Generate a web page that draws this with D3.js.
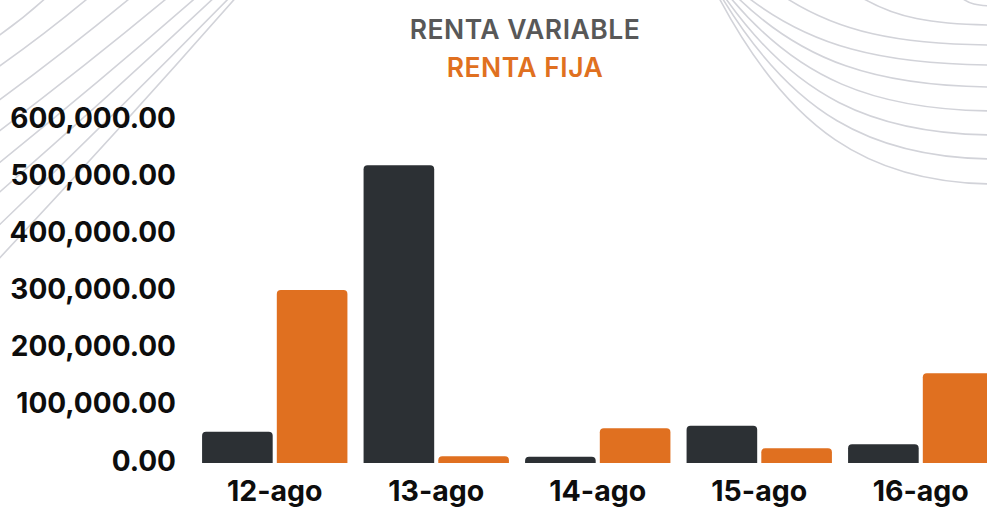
<!DOCTYPE html>
<html>
<head>
<meta charset="utf-8">
<script src="https://cdn.jsdelivr.net/npm/d3@7"></script>
<style>
  html, body { margin: 0; padding: 0; background: #fff; }
  svg { display: block; font-family: Inter, "Noto Sans", sans-serif; }
</style>
</head>
<body>
<div id="chart"></div>
<script>
// Chart data
const categories = ['12-ago', '13-ago', '14-ago', '15-ago', '16-ago'];
const rentaVariable = [54700, 521000, 11000, 65300, 32700];
const rentaFija = [302600, 12000, 60700, 25700, 157000];
const seriesNames = ['RENTA VARIABLE', 'RENTA FIJA'];
const yTicks = [0, 100000, 200000, 300000, 400000, 500000, 600000];

// decoration: top-left fan (top x, left-edge y) and top-right waves (top x, right-edge y)
const fanLeft = [[45, 32], [88, 63], [130, 97], [167, 128], [195, 160], [213, 190], [228, 223], [234, 257]];
const waveRight = [[963, 6], [863, 25], [787, 45], [750, 65], [740, 87], [733, 111], [728, 135], [725, 159], [722, 184]];

function renderChart() {
    const width = 987, height = 507;
    const colors = ['#2c3034', '#e07020'];

    const svg = d3.select('#chart').append('svg')
        .attr('width', width)
        .attr('height', height);

    // background lines
    const deco = svg.append('g')
        .attr('fill', 'none')
        .attr('stroke', '#d2d3d9')
        .attr('stroke-width', 1.6);

    deco.selectAll('.fan')
        .data(fanLeft)
        .enter()
        .append('path')
        .attr('d', d => {
            const [tx, ly] = d;
            return `M${tx + 5},-6 Q${tx * 0.5 + 2},${ly * 0.5 + 2} -6,${ly + 7}`;
        });

    deco.selectAll('.wave')
        .data(waveRight)
        .enter()
        .append('path')
        .attr('d', d => {
            const [tx, ry] = d;
            const span = width - tx;
            return `M${tx - 4},-4 C${tx + span * 0.25},${ry * 0.7} ${width - span * 0.45},${ry} ${width + 10},${ry}`;
        });

    // scales
    const x0 = d3.scaleBand()
        .domain(categories)
        .range([194, 1001.5])
        .paddingInner(0.1)
        .paddingOuter(0.05);

    const x1 = d3.scaleBand()
        .domain(seriesNames)
        .range([0, x0.bandwidth()])
        .paddingInner(0.055);

    const y = d3.scaleLinear()
        .domain([0, 600000])
        .range([463, 120]);

    // y axis labels
    const yAxis = svg.append('g')
        .attr('transform', 'translate(176,0)')
        .call(d3.axisLeft(y).tickValues(yTicks).tickFormat(d3.format(',.2f')).tickSize(0).tickPadding(0));
    yAxis.select('.domain').remove();
    yAxis.selectAll('text')
        .attr('y', -3)
        .attr('dy', '0.36em')
        .attr('fill', '#0d0d0d')
        .style('font-family', 'Inter, sans-serif')
        .style('font-size', '28px')
        .style('font-weight', 700);

    // x axis labels
    const xAxis = svg.append('g')
        .attr('transform', 'translate(0,463)')
        .call(d3.axisBottom(x0).tickSize(0).tickPadding(0));
    xAxis.select('.domain').remove();
    xAxis.selectAll('text')
        .attr('y', 28)
        .attr('dy', '0.36em')
        .attr('fill', '#0d0d0d')
        .style('font-family', 'Inter, sans-serif')
        .style('font-size', '28.5px')
        .style('font-weight', 700);

    // bars with rounded top corners
    const r = 4;
    const barPath = (bx, by, bw, bh) => {
        const rr = Math.min(r, bh, bw / 2);
        return `M${bx},${by + bh} V${by + rr} Q${bx},${by} ${bx + rr},${by} H${bx + bw - rr} Q${bx + bw},${by} ${bx + bw},${by + rr} V${by + bh} Z`;
    };

    const rows = categories.map((c, i) => ({
        cat: c,
        values: [
            { key: seriesNames[0], value: rentaVariable[i] },
            { key: seriesNames[1], value: rentaFija[i] }
        ]
    }));

    svg.append('g')
        .selectAll('g')
        .data(rows)
        .enter()
        .append('g')
        .attr('transform', d => `translate(${x0(d.cat)},0)`)
        .selectAll('path')
        .data(d => d.values)
        .enter()
        .append('path')
        .attr('fill', (d, i) => colors[i])
        .attr('d', d => barPath(x1(d.key), y(d.value), x1.bandwidth(), y(0) - y(d.value)));

    // legend (text only)
    const legend = svg.append('g');
    legend.selectAll('text')
        .data(seriesNames)
        .enter()
        .append('text')
        .attr('x', 525)
        .attr('y', (d, i) => 29 + i * 38)
        .attr('dy', '0.36em')
        .attr('text-anchor', 'middle')
        .attr('fill', (d, i) => i === 0 ? '#585858' : '#e07020')
        .style('font-size', '26.5px')
        .style('letter-spacing', '0.5px')
        .style('font-weight', 600)
        .text(d => d);
}

renderChart();
</script>
</body>
</html>
